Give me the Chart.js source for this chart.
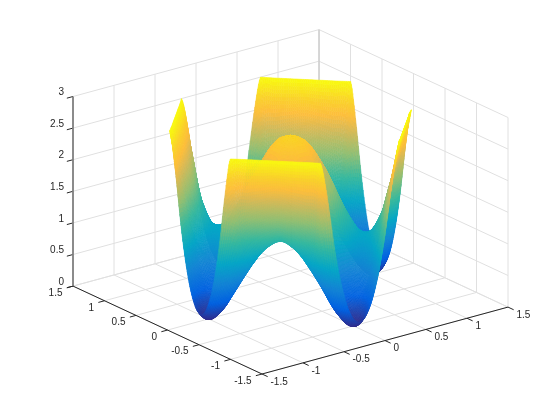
<!DOCTYPE html>
<html>
<head>
<meta charset="utf-8">
<style>html,body{margin:0;padding:0;background:#fff}canvas{display:block}</style>
<script src="https://cdn.jsdelivr.net/npm/chart.js@4"></script>
</head>
<body>
<canvas id="c" width="560" height="420"></canvas>
<script>
// Tick values and their labels
const xyTicks = [-1.5, -1, -0.5, 0, 0.5, 1, 1.5];
const xyLabels = ['-1.5', '-1', '-0.5', '0', '0.5', '1', '1.5'];
const zTicks = [0, 0.5, 1, 1.5, 2, 2.5, 3];
const zLabels = ['0', '0.5', '1', '1.5', '2', '2.5', '3'];

// Surface: one eighth of the mesh, mirrored.
// heightsFrontBack covers the x*y > 0 quadrants, heightsLeftRight the x*y < 0 quadrants.
const octantAngles = [0, 5, 10, 15, 20, 23.6, 30, 37.5, 45];
const boundaryRadius = [1.10, 1.104, 1.117, 1.139, 1.171, 1.204, 1.156, 1.127, 1.117];
const ringFractions = [0, 0.15, 0.3, 0.4, 0.5, 0.6, 0.7, 0.8, 0.85, 0.9, 0.95, 1];
const heightsFrontBack = [
  [2.55, 2.41, 2.02, 1.66, 1.24, 0.81, 0.42, 0.13, 0.04, 0.00, 0.02, 0.11],
  [2.55, 2.41, 2.02, 1.66, 1.24, 0.82, 0.44, 0.17, 0.10, 0.07, 0.12, 0.23],
  [2.55, 2.41, 2.01, 1.64, 1.24, 0.83, 0.50, 0.29, 0.26, 0.30, 0.41, 0.61],
  [2.55, 2.41, 2.00, 1.63, 1.23, 0.86, 0.59, 0.50, 0.56, 0.70, 0.93, 1.28],
  [2.55, 2.39, 1.98, 1.61, 1.22, 0.90, 0.74, 0.84, 1.01, 1.31, 1.72, 2.25],
  [2.55, 2.38, 1.95, 1.57, 1.22, 0.95, 0.89, 1.17, 1.48, 1.90, 2.32, 2.79],
  [2.55, 2.40, 2.00, 1.66, 1.34, 1.12, 1.11, 1.40, 1.68, 2.00, 2.40, 2.79],
  [2.55, 2.40, 2.03, 1.72, 1.42, 1.24, 1.27, 1.52, 1.78, 2.08, 2.42, 2.79],
  [2.55, 2.38, 2.03, 1.73, 1.45, 1.28, 1.36, 1.60, 1.86, 2.14, 2.45, 2.79]
];
const heightsLeftRight = [
  [2.55, 2.41, 2.02, 1.66, 1.24, 0.81, 0.42, 0.13, 0.04, 0.00, 0.02, 0.11],
  [2.55, 2.41, 2.02, 1.66, 1.24, 0.82, 0.44, 0.17, 0.10, 0.07, 0.12, 0.23],
  [2.55, 2.41, 2.01, 1.64, 1.24, 0.83, 0.50, 0.29, 0.26, 0.30, 0.41, 0.61],
  [2.55, 2.41, 2.00, 1.62, 1.21, 0.84, 0.57, 0.49, 0.56, 0.70, 0.93, 1.28],
  [2.55, 2.39, 1.97, 1.58, 1.18, 0.85, 0.70, 0.82, 1.00, 1.31, 1.72, 2.25],
  [2.55, 2.38, 1.93, 1.52, 1.15, 0.88, 0.80, 1.10, 1.45, 1.90, 2.32, 2.79],
  [2.55, 2.38, 1.95, 1.58, 1.22, 0.97, 0.95, 1.30, 1.62, 1.98, 2.40, 2.79],
  [2.55, 2.38, 1.96, 1.62, 1.28, 1.05, 1.06, 1.38, 1.70, 2.04, 2.42, 2.79],
  [2.55, 2.37, 1.96, 1.62, 1.30, 1.07, 1.10, 1.42, 1.74, 2.08, 2.44, 2.79]
];
const topHeight = 2.79;
const colorLimit = 2.8;
const colorStops = [0, 0.125, 0.25, 0.375, 0.5, 0.625, 0.75, 0.82, 0.89, 1];
const colorValues = [[53,42,135],[3,99,225],[20,133,212],[6,167,198],[56,185,158],[146,191,115],[217,186,86],[253,190,60],[250,208,44],[249,251,14]];

// Orthographic view of the axes box
const sx = (x, y) => 262 + 82 * (x + 1.5) - 63 * (y + 1.5);
const sy = (x, y, z) => 374 - 22.3 * (x + 1.5) - 29.3 * (y + 1.5) - 63.2 * z;
const pt = (x, y, z) => ({x: sx(x, y), y: sy(x, y, z)});
const nearness = (x, y, z) => -63 * x - 82 * y + 60 * z;

function colorOf(z) {
  const t = Math.max(0, Math.min(1, z / colorLimit));
  let i = 0;
  while (i < colorStops.length - 2 && t > colorStops[i + 1]) i++;
  const f = (t - colorStops[i]) / (colorStops[i + 1] - colorStops[i]);
  const a = colorValues[i], b = colorValues[i + 1];
  return 'rgb(' + [0, 1, 2].map(k => Math.round(a[k] + (b[k] - a[k]) * f)).join(',') + ')';
}

// Mesh: mirror the octant round the full circle
const sectors = [];
for (let q = 0; q < 8; q++) {
  const n = octantAngles.length;
  const quadrant = Math.floor(q / 2);
  const table = quadrant % 2 === 0 ? heightsFrontBack : heightsLeftRight;
  for (let k = 0; k < n - 1; k++) {
    const idx = q % 2 === 0 ? k : n - 1 - k;
    const ang = q % 2 === 0 ? q * 45 + octantAngles[idx] : (q + 1) * 45 - octantAngles[idx];
    sectors.push({ang, idx, row: table[idx]});
  }
}
const mesh = [];
sectors.forEach(s => {
  const a = s.ang * Math.PI / 180;
  ringFractions.forEach((f, j) => {
    const r = f * boundaryRadius[s.idx];
    mesh.push({x: r * Math.cos(a), y: r * Math.sin(a), z: s.row[j]});
  });
});

function line(pts, color, width) {
  return {type: 'scatter', data: pts, showLine: true, borderColor: color, borderWidth: width,
          pointRadius: 0, fill: false, tension: 0};
}
const gridColor = '#e0e0e0';
const datasets = [];
datasets.push({type: 'scatter', label: 'surface', data: mesh.map(m => pt(m.x, m.y, m.z)), pointRadius: 0, showLine: false});

// Front axes and ticks
const axisColor = '#262626';
datasets.push(line([pt(-1.5, -1.5, 0), pt(1.5, -1.5, 0)], axisColor, 1));
datasets.push(line([pt(-1.5, -1.5, 0), pt(-1.5, 1.5, 0)], axisColor, 1));
datasets.push(line([pt(-1.5, 1.5, 0), pt(-1.5, 1.5, 3)], '#808080', 1.8));
xyTicks.forEach(v => {
  datasets.push(line([pt(v, -1.5, 0), pt(v, -1.59, 0)], axisColor, 1));
  datasets.push(line([pt(-1.5, v, 0), pt(-1.575, v, 0)], axisColor, 1));
});
zTicks.forEach(v => {
  datasets.push(line([pt(-1.5, 1.5, v), pt(-1.575, 1.5, v)], axisColor, 1));
});
// Back corner, then grid
datasets.push(line([pt(1.5, 1.5, 0), pt(1.5, 1.5, 3)], '#c4c4c4', 1));
xyTicks.forEach(v => {
  datasets.push(line([pt(v, -1.5, 0), pt(v, 1.5, 0), pt(v, 1.5, 3)], gridColor, 1));
  datasets.push(line([pt(-1.5, v, 0), pt(1.5, v, 0), pt(1.5, v, 3)], gridColor, 1));
});
zTicks.forEach(v => {
  datasets.push(line([pt(-1.5, 1.5, v), pt(1.5, 1.5, v), pt(1.5, -1.5, v)], gridColor, 1));
});

// Smooth shading between the table's nodes (drawing only)
function hermite(knots, vals, i, w) {
  const n = knots.length;
  const slope = k => {
    const lo = Math.max(0, k - 1), hi = Math.min(n - 1, k + 1);
    return (vals[hi] - vals[lo]) / (knots[hi] - knots[lo]);
  };
  const h = knots[i + 1] - knots[i];
  const a = vals[i], b = vals[i + 1], ma = slope(i) * h, mb = slope(i + 1) * h;
  const w2 = w * w, w3 = w2 * w;
  return (2 * w3 - 3 * w2 + 1) * a + (w3 - 2 * w2 + w) * ma + (-2 * w3 + 3 * w2) * b + (w3 - w2) * mb;
}
function smoothHeight(s, j, u, v) {
  const ns = sectors.length;
  const angles = [], vals = [];
  for (let d = -1; d <= 2; d++) {
    const sec = sectors[(s + d + ns) % ns];
    let ang = sec.ang;
    const base = sectors[s].ang;
    if (ang - base > 180) ang -= 360;
    if (ang - base < -180) ang += 360;
    angles.push(ang);
    vals.push(hermite(ringFractions, sec.row, j, v));
  }
  const z = hermite(angles, vals, 1, u);
  return Math.max(0, Math.min(topHeight, z));
}

const surfacePlugin = {
  id: 'surface',
  afterDatasetsDraw(chart) {
    const ctx = chart.ctx;
    const xs = chart.scales.x, ys = chart.scales.y;
    const nr = ringFractions.length, ns = sectors.length, sub = 7;
    const at = (s, j) => (s % ns) * nr + j;
    const faces = [];
    const lerp = (a, b, c, d, u, v) => (a * (1 - u) + b * u) * (1 - v) + (d * (1 - u) + c * u) * v;
    for (let s = 0; s < ns; s++) {
      for (let j = 0; j < nr - 1; j++) {
        const M = [at(s, j), at(s + 1, j), at(s + 1, j + 1), at(s, j + 1)].map(i => mesh[i]);
        const vert = (u, v) => {
          const X = lerp(M[0].x, M[1].x, M[2].x, M[3].x, u, v);
          const Y = lerp(M[0].y, M[1].y, M[2].y, M[3].y, u, v);
          const Z = smoothHeight(s, j, u, v);
          const p = pt(X, Y, Z);
          return {px: xs.getPixelForValue(p.x), py: ys.getPixelForValue(p.y), X, Y, Z};
        };
        for (let a = 0; a < sub; a++) for (let b = 0; b < sub; b++) {
          const c = [vert(a / sub, b / sub), vert((a + 1) / sub, b / sub), vert((a + 1) / sub, (b + 1) / sub), vert(a / sub, (b + 1) / sub)];
          const X = (c[0].X + c[2].X) / 2, Y = (c[0].Y + c[2].Y) / 2;
          const Z = (c[0].Z + c[1].Z + c[2].Z + c[3].Z) / 4;
          faces.push({c, depth: nearness(X, Y, Z), color: colorOf(Z)});
        }
      }
    }
    faces.sort((p, q) => p.depth - q.depth);
    ctx.save();
    ctx.lineWidth = 0.6;
    ctx.lineJoin = 'round';
    faces.forEach(f => {
      ctx.beginPath();
      f.c.forEach((v, i) => i ? ctx.lineTo(v.px, v.py) : ctx.moveTo(v.px, v.py));
      ctx.closePath();
      ctx.fillStyle = f.color;
      ctx.strokeStyle = f.color;
      ctx.fill();
      ctx.stroke();
    });
    ctx.restore();

    // Tick labels
    ctx.save();
    ctx.font = '10px "Liberation Sans", Arial, sans-serif';
    ctx.fillStyle = '#262626';
    ctx.textBaseline = 'middle';
    xyTicks.forEach((v, i) => {
      const p = pt(v, -1.5, 0);
      ctx.textAlign = 'left';
      ctx.fillText(xyLabels[i], xs.getPixelForValue(p.x) + 8.5, ys.getPixelForValue(p.y) + 8);
      const q = pt(-1.5, v, 0);
      ctx.textAlign = 'right';
      ctx.fillText(xyLabels[i], xs.getPixelForValue(q.x) - 10.5, ys.getPixelForValue(q.y) + 7);
    });
    zTicks.forEach((v, i) => {
      const p = pt(-1.5, 1.5, v);
      ctx.textAlign = 'right';
      ctx.fillText(zLabels[i], xs.getPixelForValue(p.x) - 9, ys.getPixelForValue(p.y) - 4);
    });
    ctx.restore();
  }
};

new Chart(document.getElementById('c'), {
  type: 'scatter',
  data: {datasets},
  options: {
    responsive: false,
    animation: false,
    events: [],
    layout: {padding: 0},
    plugins: {legend: {display: false}, tooltip: {enabled: false}, title: {display: false}},
    scales: {
      x: {type: 'linear', min: 0, max: 560, display: false},
      y: {type: 'linear', min: 0, max: 420, reverse: true, display: false}
    }
  },
  plugins: [surfacePlugin]
});
</script>
</body>
</html>
